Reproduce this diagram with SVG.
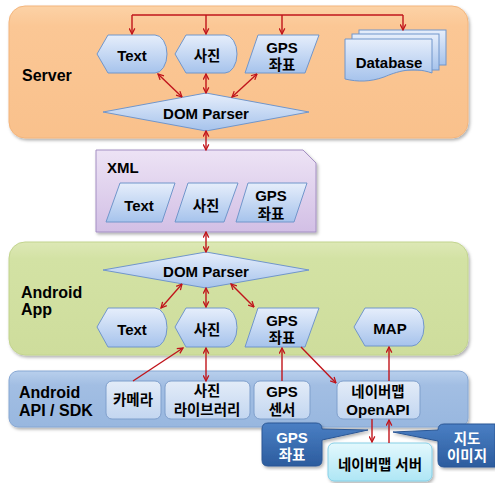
<svg xmlns="http://www.w3.org/2000/svg" width="495" height="483" viewBox="0 0 495 483">
<defs>
<style>
text{font-family:"Liberation Sans","Noto Sans CJK KR",sans-serif;font-weight:bold;fill:#000;text-anchor:middle}
.lbl{font-size:16px;text-anchor:start}
.n{font-size:15px}
.k{font-size:14.5px}
.w{fill:#fff}
.node{fill:url(#gNode);stroke:#7196cb;stroke-width:1}
.sub{fill:url(#gSub);stroke:#7f9fcc;stroke-width:1}
.con{fill:none;stroke:#c0141b;stroke-width:1.4}
</style>
<linearGradient id="gNode" x1="0" y1="0" x2="0" y2="1"><stop offset="0" stop-color="#e6eefb"/><stop offset="1" stop-color="#a6c3ec"/></linearGradient>
<linearGradient id="gSub" x1="0" y1="0" x2="0" y2="1"><stop offset="0" stop-color="#e3ecf8"/><stop offset="1" stop-color="#c3d6f0"/></linearGradient>
<linearGradient id="gServer" x1="0" y1="0" x2="0" y2="1"><stop offset="0" stop-color="#fcd2a6"/><stop offset="0.15" stop-color="#fbc795"/><stop offset="1" stop-color="#f9c18c"/></linearGradient>
<linearGradient id="gApp" x1="0" y1="0" x2="0" y2="1"><stop offset="0" stop-color="#dde8b6"/><stop offset="0.15" stop-color="#d3e2a4"/><stop offset="1" stop-color="#cedd9c"/></linearGradient>
<linearGradient id="gApi" x1="0" y1="0" x2="0" y2="1"><stop offset="0" stop-color="#b8cfec"/><stop offset="0.25" stop-color="#a2bee3"/><stop offset="1" stop-color="#98b7df"/></linearGradient>
<linearGradient id="gXml" x1="0" y1="0" x2="0" y2="1"><stop offset="0" stop-color="#ede3f5"/><stop offset="1" stop-color="#d2bfe5"/></linearGradient>
<linearGradient id="gCall" x1="0" y1="0" x2="0" y2="1"><stop offset="0" stop-color="#4a7fc4"/><stop offset="1" stop-color="#2c5c9e"/></linearGradient>
<linearGradient id="gNs" x1="0" y1="0" x2="0" y2="1"><stop offset="0" stop-color="#e3f8fd"/><stop offset="1" stop-color="#aee6f5"/></linearGradient>
<filter id="sh" x="-5%" y="-5%" width="112%" height="115%"><feDropShadow dx="1.5" dy="2" stdDeviation="1.5" flood-color="#000" flood-opacity="0.3"/></filter>
<marker id="ah" viewBox="0 0 10 10" refX="9" refY="5" markerWidth="7" markerHeight="7" markerUnits="userSpaceOnUse" orient="auto-start-reverse"><path d="M1,1 L9,5 L1,9" fill="none" stroke="#c0141b" stroke-width="1.8"/></marker>
</defs>

<!-- Panels -->
<g id="server-panel">
<rect x="9" y="6" width="459" height="132" rx="16" fill="url(#gServer)" stroke="#f3b57c" filter="url(#sh)"/>
<text class="lbl" x="22" y="81">Server</text>
</g>
<g id="xml-panel">
<path d="M96,150 H303 L316,163 V232 H96 Z" fill="url(#gXml)" stroke="#a48fc3" filter="url(#sh)"/>
<text class="lbl" x="107" y="173" style="font-size:15px">XML</text>
</g>
<g id="app-panel">
<rect x="9" y="242" width="459" height="113" rx="16" fill="url(#gApp)" stroke="#c2d48e" filter="url(#sh)"/>
<text class="lbl" x="21" y="298">Android</text>
<text class="lbl" x="21" y="315">App</text>
</g>
<g id="api-panel">
<rect x="9" y="371" width="459" height="56" rx="9" fill="url(#gApi)" stroke="#86a7d3" filter="url(#sh)"/>
<text class="lbl" x="19" y="398">Android</text>
<text class="lbl" x="19" y="416">API / SDK</text>
</g>

<!-- Server nodes -->
<g id="srv-text">
<path class="node" d="M97,54 L108,35 H155 A12,19 0 0 1 155,73 H108 Z"/>
<text class="n" x="132" y="61">Text</text>
</g>
<g id="srv-photo">
<path class="node" d="M175,54 L186,35 H225 A12,19 0 0 1 225,73 H186 Z"/>
<text class="k" x="207" y="61">사진</text>
</g>
<g id="srv-gps">
<path class="node" d="M258,35 H319 L305,73 H245 Z"/>
<text class="n" x="282" y="53">GPS</text>
<text class="k" x="282" y="70">좌표</text>
</g>
<g id="srv-db">
<rect x="359" y="30" width="87" height="35" fill="url(#gNode)" stroke="#7196cb"/>
<rect x="352" y="34" width="87" height="36" fill="url(#gNode)" stroke="#7196cb"/>
<path class="node" d="M345,39 H432 V73 C412,66 396,72 384,77 C370,82 358,82 345,79 Z"/>
<text class="n" x="389" y="68">Database</text>
</g>
<g id="srv-dom">
<path class="node" d="M103,112 L206,93 L309,112 L206,131 Z"/>
<text class="n" x="206" y="119">DOM Parser</text>
</g>

<!-- XML nodes -->
<g id="xml-text">
<path class="node" d="M120,183 H175 L162,222 H106 Z"/>
<text class="n" x="139" y="211">Text</text>
</g>
<g id="xml-photo">
<path class="node" d="M188,183 H238 L224,222 H175 Z"/>
<text class="k" x="206" y="211">사진</text>
</g>
<g id="xml-gps">
<path class="node" d="M248,183 H307 L294,222 H236 Z"/>
<text class="n" x="271" y="201">GPS</text>
<text class="k" x="271" y="219">좌표</text>
</g>

<!-- Android App nodes -->
<g id="app-dom">
<path class="node" d="M103,270 L206,252 L309,270 L206,288 Z"/>
<text class="n" x="206" y="277">DOM Parser</text>
</g>
<g id="app-text">
<path class="node" d="M97,327 L108,308 H155 A12,19.5 0 0 1 155,347 H108 Z"/>
<text class="n" x="132" y="335">Text</text>
</g>
<g id="app-photo">
<path class="node" d="M175,327 L186,308 H225 A12,19.5 0 0 1 225,347 H186 Z"/>
<text class="k" x="207" y="335">사진</text>
</g>
<g id="app-gps">
<path class="node" d="M258,308 H319 L305,347 H245 Z"/>
<text class="n" x="282" y="326">GPS</text>
<text class="k" x="282" y="343">좌표</text>
</g>
<g id="app-map">
<path class="node" d="M354,327 L365,308 H412 A12,19 0 0 1 412,346 H365 Z"/>
<text class="n" x="390" y="334">MAP</text>
</g>

<!-- API / SDK nodes -->
<g id="api-camera">
<rect class="sub" x="106" y="381" width="55" height="38" rx="6"/>
<text class="k" x="133" y="405">카메라</text>
</g>
<g id="api-photolib">
<rect class="sub" x="165" y="381" width="85" height="38" rx="6"/>
<text class="k" x="207" y="396">사진</text>
<text class="k" x="207" y="415">라이브러리</text>
</g>
<g id="api-gps">
<rect class="sub" x="254" y="381" width="56" height="38" rx="6"/>
<text class="n" x="282" y="397">GPS</text>
<text class="k" x="282" y="415">센서</text>
</g>
<g id="api-naver">
<rect class="sub" x="337" y="381" width="83" height="38" rx="6"/>
<text class="k" x="378" y="397">네이버맵</text>
<text class="n" x="378" y="415">OpenAPI</text>
</g>

<!-- Callouts and server -->
<g id="callout-gps">
<path d="M268,423 H316 Q322,423 322,429 L368,430 L322,440 V460 Q322,466 316,466 H268 Q262,466 262,460 V429 Q262,423 268,423 Z" fill="url(#gCall)" stroke="#2b5795" filter="url(#sh)"/>
<text class="n w" x="292" y="443">GPS</text>
<text class="k w" x="292" y="460">좌표</text>
</g>
<g id="callout-map">
<path d="M444,424 H495 V467 H444 Q438,467 438,461 V441 L393,432 L438,430 Q438,424 444,424 Z" fill="url(#gCall)" stroke="#2b5795" filter="url(#sh)"/>
<text class="k w" x="467" y="444">지도</text>
<text class="k w" x="467" y="461">이미지</text>
</g>
<g id="naver-server">
<rect x="328" y="443" width="104" height="38" rx="6" fill="url(#gNs)" stroke="#86cfe6" filter="url(#sh)"/>
<text class="k" x="380" y="470">네이버맵 서버</text>
</g>

<!-- Connectors -->
<g id="connectors">
<path class="con" d="M132,15 H403"/>
<path class="con" d="M132,15 V34" marker-end="url(#ah)"/>
<path class="con" d="M206,15 V34" marker-end="url(#ah)"/>
<path class="con" d="M282,15 V34" marker-end="url(#ah)"/>
<path class="con" d="M403,15 V30" marker-end="url(#ah)"/>
<path class="con" d="M158,74 L182,97" marker-start="url(#ah)" marker-end="url(#ah)"/>
<path class="con" d="M206,74 V93" marker-start="url(#ah)" marker-end="url(#ah)"/>
<path class="con" d="M257,74 L232,97" marker-start="url(#ah)" marker-end="url(#ah)"/>
<path class="con" d="M206,131 V150" marker-start="url(#ah)" marker-end="url(#ah)"/>
<path class="con" d="M206,232 V252" marker-start="url(#ah)" marker-end="url(#ah)"/>
<path class="con" d="M182,284 L161,308" marker-start="url(#ah)" marker-end="url(#ah)"/>
<path class="con" d="M206,288 V307" marker-start="url(#ah)" marker-end="url(#ah)"/>
<path class="con" d="M231,284 L254,307" marker-start="url(#ah)" marker-end="url(#ah)"/>
<path class="con" d="M133,381 L183,348" marker-end="url(#ah)"/>
<path class="con" d="M206,381 V348" marker-start="url(#ah)" marker-end="url(#ah)"/>
<path class="con" d="M282,381 V348" marker-end="url(#ah)"/>
<path class="con" d="M301,347 L336,383" marker-end="url(#ah)"/>
<path class="con" d="M389,381 V347" marker-end="url(#ah)"/>
<path class="con" d="M372,419 V442" marker-end="url(#ah)"/>
<path class="con" d="M389,443 V420" marker-end="url(#ah)"/>
</g>
</svg>
